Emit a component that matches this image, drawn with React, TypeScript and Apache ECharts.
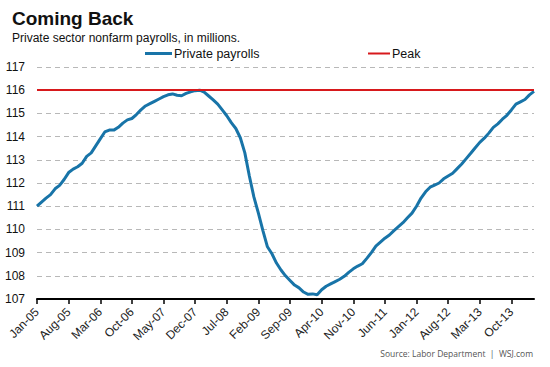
import React, { useEffect, useRef } from "react";
import * as echarts from "echarts";

const MONTHS = ["Jan", "Feb", "Mar", "Apr", "May", "Jun", "Jul", "Aug", "Sep", "Oct", "Nov", "Dec"];
const YEARS = ["05", "06", "07", "08", "09", "10", "11", "12", "13", "14"];
const categories: string[] = [];
for (const y of YEARS) {
  for (const m of MONTHS) {
    categories.push(`${m}-${y}`);
    if (y === "14" && m === "Mar") break;
  }
}

const payrolls2005 = [111.0, 111.18, 111.35, 111.5, 111.75, 111.9, 112.15, 112.45, 112.6, 112.7, 112.85, 113.15];
const payrolls2006 = [113.3, 113.6, 113.9, 114.2, 114.28, 114.28, 114.4, 114.58, 114.72, 114.78, 114.95, 115.15];
const payrolls2007 = [115.32, 115.42, 115.52, 115.62, 115.72, 115.8, 115.84, 115.78, 115.76, 115.86, 115.93, 115.98];
const payrolls2008 = [116.0, 115.92, 115.75, 115.58, 115.4, 115.15, 114.9, 114.6, 114.35, 113.95, 113.3, 112.3];
const payrolls2009 = [111.4, 110.7, 109.95, 109.25, 108.95, 108.55, 108.25, 108.0, 107.8, 107.6, 107.48, 107.3];
const payrolls2010 = [107.2, 107.22, 107.18, 107.4, 107.55, 107.65, 107.75, 107.85, 107.98, 108.15, 108.3, 108.42];
const payrolls2011 = [108.52, 108.75, 109.0, 109.28, 109.45, 109.62, 109.76, 109.95, 110.12, 110.29, 110.5, 110.7];
const payrolls2012 = [111.0, 111.35, 111.62, 111.82, 111.91, 112.0, 112.18, 112.3, 112.42, 112.62, 112.82, 113.05];
const payrolls2013 = [113.28, 113.52, 113.75, 113.93, 114.15, 114.4, 114.55, 114.75, 114.92, 115.15, 115.4, 115.5];
const payrolls2014 = [115.6, 115.8, 115.95];

const privatePayrolls = [
  ...payrolls2005, ...payrolls2006, ...payrolls2007, ...payrolls2008, ...payrolls2009,
  ...payrolls2010, ...payrolls2011, ...payrolls2012, ...payrolls2013, ...payrolls2014,
];

const PEAK = 116.0;
const Y_MIN = 107;
const Y_MAX = 117;

const FONT = "'Liberation Sans', Arial, sans-serif";

export default function App() {
  const ref = useRef<HTMLDivElement>(null);
  useEffect(() => {
    document.body.style.margin = "0";
    if (!ref.current) return;
    const chart = echarts.init(ref.current, null, { renderer: "svg" });
    chart.setOption({
      animation: false,
      backgroundColor: "#ffffff",
      textStyle: { fontFamily: FONT },
      title: [
        {
          text: "Coming Back",
          left: 7,
          top: 4,
          textStyle: { fontSize: 19, fontWeight: "bold", color: "#111", fontFamily: FONT },
        },
        {
          text: "Private sector nonfarm payrolls, in millions.",
          left: 7,
          top: 27,
          textStyle: { fontSize: 12, fontWeight: "normal", color: "#111", fontFamily: FONT },
        },
        {
          text: "Source: Labor Department  |  WSJ.com",
          right: 12,
          top: 344,
          textStyle: { fontSize: 8.5, fontWeight: "normal", color: "#555", fontFamily: "'Open Sans', sans-serif" },
        },
      ],
      legend: [
        {
          data: ["Private payrolls"],
          left: 140,
          top: 42,
          icon: "rect",
          itemWidth: 27,
          itemHeight: 3,
          itemGap: 2,
          textStyle: { fontSize: 12.5, color: "#111", padding: [0, 0, 0, -3] },
        },
        {
          data: ["Peak"],
          left: 363,
          top: 42,
          icon: "rect",
          itemWidth: 22,
          itemHeight: 2,
          textStyle: { fontSize: 12.5, color: "#111", padding: [0, 0, 0, -3] },
        },
      ],
      grid: { left: 37, right: 16, top: 67, bottom: 68, containLabel: false, outerBoundsMode: "none" },
      xAxis: {
        type: "category",
        data: categories,
        boundaryGap: false,
        axisLine: { lineStyle: { color: "#000", width: 2 } },
        axisTick: { interval: 6, length: 5, lineStyle: { color: "#000", width: 1.5 } },
        axisLabel: { interval: 6, rotate: 45, fontSize: 12, color: "#222", margin: 11 },
        splitLine: { show: false },
      },
      yAxis: {
        type: "value",
        min: Y_MIN,
        max: Y_MAX,
        interval: 1,
        axisLine: { show: false },
        axisTick: { show: false },
        axisLabel: { fontSize: 12, color: "#111", margin: 12 },
        splitLine: { lineStyle: { color: "#b8b8b8", type: [5, 4], width: 1 } },
      },
      series: [
        {
          name: "Private payrolls",
          type: "line",
          data: privatePayrolls,
          showSymbol: false,
          symbol: "none",
          lineStyle: { color: "#1874a8", width: 3 },
          itemStyle: { color: "#1874a8" },
          z: 3,
        },
        {
          name: "Peak",
          type: "line",
          data: [],
          symbol: "none",
          itemStyle: { color: "#d7191c" },
          lineStyle: { color: "#d7191c", width: 2 },
          markLine: {
            silent: true,
            symbol: "none",
            label: { show: false },
            lineStyle: { color: "#d7191c", width: 2, type: "solid" },
            data: [{ yAxis: PEAK }],
          },
          z: 2,
        },
      ],
    });
    return () => chart.dispose();
  }, []);
  return <div ref={ref} style={{ width: 550, height: 367 }} />;
}
